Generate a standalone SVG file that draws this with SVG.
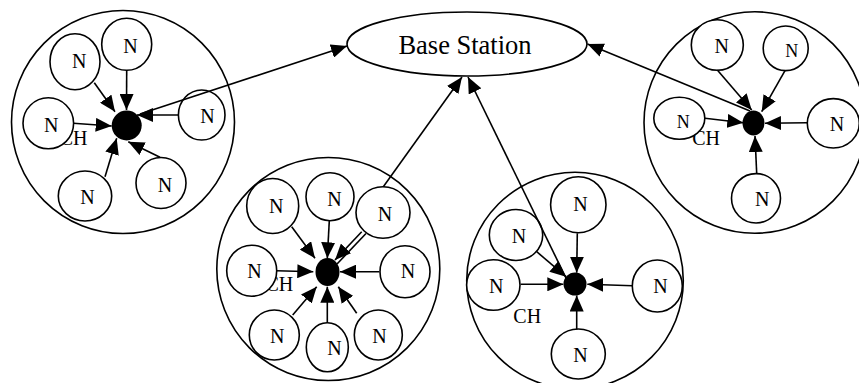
<svg xmlns="http://www.w3.org/2000/svg" width="859" height="383" viewBox="0 0 859 383">
<style>
.cl{fill:none;stroke:#000;stroke-width:1.6}
.nd{fill:#fff;stroke:#000;stroke-width:1.6}
.ch{fill:#000}
.t{font-family:"Liberation Serif","Times New Roman",serif;font-size:20px;fill:#000;text-anchor:middle}
.s{font-size:18px}
.lb{font-family:"Liberation Serif","Times New Roman",serif;font-size:20px;fill:#000}
.bs{font-family:"Liberation Serif","Times New Roman",serif;font-size:26.5px;fill:#000;text-anchor:middle}
.a{fill:none;stroke:#000;stroke-width:1.6;marker-end:url(#ah)}
.p{fill:none;stroke:#000;stroke-width:1.6}
</style>
<defs>
<marker id="ah" markerUnits="userSpaceOnUse" viewBox="0 0 16 14" markerWidth="16" markerHeight="14" refX="16" refY="7" orient="auto">
<path d="M0,0 L16,7 L0,14 z" fill="#000"/>
</marker>
</defs>

<g id="base-station">
<ellipse cx="467" cy="44" rx="120" ry="32" class="nd"/>
<text x="465" y="53.5" class="bs">Base Station</text>
</g>

<g id="cluster1">
<circle cx="123" cy="122" r="111.5" class="cl"/>
<text x="87.5" y="145" class="lb" text-anchor="end">CH</text>
<ellipse id="c1-ch" cx="126.7" cy="125.5" rx="15" ry="15" class="ch"/>
<g id="c1-n1"><ellipse cx="126.7" cy="44.3" rx="25" ry="26" class="nd"/><text x="130.5" y="53.3" class="t">N</text></g>
<g id="c1-n2"><ellipse cx="75" cy="61.7" rx="25" ry="28" class="nd"/><text x="79.3" y="68.3" class="t">N</text></g>
<g id="c1-n3"><ellipse cx="48.3" cy="123.3" rx="25.3" ry="25.5" class="nd"/><text x="51.3" y="132.3" class="t">N</text></g>
<g id="c1-n4"><ellipse cx="201.7" cy="115" rx="23.3" ry="25" class="nd"/><text x="207.5" y="122.7" class="t">N</text></g>
<g id="c1-n5"><ellipse cx="161" cy="183" rx="25" ry="25.5" class="nd"/><text x="165" y="192.3" class="t">N</text></g>
<g id="c1-n6"><ellipse cx="85" cy="196" rx="26.7" ry="25" class="nd"/><text x="87.5" y="204.3" class="t">N</text></g>
</g>

<g id="cluster2">
<circle cx="328.3" cy="269" r="111.5" class="cl"/>
<text x="293.3" y="290.7" class="lb" text-anchor="end">CH</text>
<ellipse id="c2-ch" cx="327.5" cy="272" rx="12" ry="14" class="ch"/>
<g id="c2-n1"><ellipse cx="272.7" cy="206" rx="26" ry="27.5" class="nd"/><text x="276.3" y="213.3" class="t">N</text></g>
<g id="c2-n2"><ellipse cx="330" cy="196.7" rx="24" ry="24" class="nd"/><text x="334.5" y="206" class="t">N</text></g>
<g id="c2-n3"><ellipse cx="383" cy="212.5" rx="27" ry="25.8" class="nd"/><text x="385" y="220.7" class="t">N</text></g>
<g id="c2-n4"><ellipse cx="251.7" cy="270.7" rx="25" ry="25.5" class="nd"/><text x="254.5" y="278.3" class="t">N</text></g>
<g id="c2-n5"><ellipse cx="405" cy="271.7" rx="25" ry="26" class="nd"/><text x="408" y="278.3" class="t">N</text></g>
<g id="c2-n6"><ellipse cx="274.3" cy="335" rx="25" ry="25" class="nd"/><text x="277.3" y="343.3" class="t">N</text></g>
<g id="c2-n7"><ellipse cx="327.3" cy="347.3" rx="21" ry="24.5" class="nd"/><text x="334.5" y="355" class="t">N</text></g>
<g id="c2-n8"><ellipse cx="378.3" cy="335" rx="24" ry="25" class="nd"/><text x="379.5" y="343.3" class="t">N</text></g>
</g>

<g id="cluster3">
<circle cx="575" cy="280.6" r="108.3" class="cl"/>
<text x="513.3" y="322.7" class="lb">CH</text>
<ellipse id="c3-ch" cx="575" cy="284" rx="11.5" ry="11.5" class="ch"/>
<g id="c3-n1"><ellipse cx="578.3" cy="204.7" rx="27.7" ry="28" class="nd"/><text x="580.5" y="211" class="t">N</text></g>
<g id="c3-n2"><ellipse cx="516" cy="235" rx="26.7" ry="25.5" class="nd"/><text x="519" y="242.7" class="t">N</text></g>
<g id="c3-n3"><ellipse cx="493.3" cy="285" rx="26.7" ry="25.3" class="nd"/><text x="496.2" y="292.7" class="t">N</text></g>
<g id="c3-n4"><ellipse cx="657.3" cy="286" rx="25" ry="26" class="nd"/><text x="660.5" y="292.7" class="t">N</text></g>
<g id="c3-n5"><ellipse cx="578.3" cy="354" rx="27" ry="25" class="nd"/><text x="580.5" y="361.7" class="t">N</text></g>
</g>

<g id="cluster4">
<circle cx="754.8" cy="122.5" r="110.8" class="cl"/>
<text x="720" y="145" class="lb" text-anchor="end">CH</text>
<ellipse id="c4-ch" cx="753.5" cy="123" rx="11" ry="12.5" class="ch"/>
<g id="c4-n1"><ellipse cx="717.3" cy="45" rx="26" ry="25.3" class="nd"/><text x="721.8" y="53.3" class="t">N</text></g>
<g id="c4-n2"><ellipse cx="785.7" cy="48.3" rx="22.5" ry="22.3" class="nd"/><text x="791.7" y="56.7" class="t s">N</text></g>
<g id="c4-n3"><ellipse cx="679.3" cy="118.3" rx="25.5" ry="21" class="nd"/><text x="683.3" y="128.3" class="t s">N</text></g>
<g id="c4-n4"><ellipse cx="833.3" cy="123.3" rx="26" ry="24.7" class="nd"/><text x="837" y="131" class="t">N</text></g>
<g id="c4-n5"><ellipse cx="756" cy="198.3" rx="24.5" ry="24.7" class="nd"/><text x="762.3" y="206" class="t">N</text></g>
</g>

<g id="connectors">
<!-- cluster 1 -->
<line x1="126.7" y1="70" x2="126.5" y2="110" class="a"/>
<line x1="94.3" y1="82.7" x2="115" y2="111.7" class="a"/>
<line x1="73.3" y1="123.3" x2="111.7" y2="126" class="a"/>
<line x1="178.3" y1="115" x2="137" y2="115" class="a"/>
<line x1="160" y1="157.3" x2="128.3" y2="141.7" class="a"/>
<line x1="105" y1="176.7" x2="116.7" y2="138.3" class="a"/>
<line x1="140" y1="114" x2="347" y2="46" class="a"/>
<!-- cluster 2 -->
<line x1="291.7" y1="226.7" x2="315" y2="258.3" class="a"/>
<line x1="329.3" y1="220.7" x2="327.3" y2="258.3" class="a"/>
<line x1="361.7" y1="231.7" x2="335" y2="260" class="a"/>
<line x1="276.7" y1="270.7" x2="313.3" y2="271.7" class="a"/>
<line x1="379.3" y1="271.7" x2="340" y2="271.7" class="a"/>
<line x1="292.7" y1="315" x2="316.7" y2="286.7" class="a"/>
<line x1="327.3" y1="322.7" x2="327.3" y2="286.7" class="a"/>
<line x1="356.7" y1="313.3" x2="338.3" y2="286.7" class="a"/>
<line x1="366" y1="233.5" x2="337" y2="264" class="p"/>
<line x1="383.3" y1="186.7" x2="462" y2="77" class="a"/>
<!-- cluster 3 -->
<line x1="577.3" y1="233.3" x2="576.7" y2="272.7" class="a"/>
<line x1="536.7" y1="251.7" x2="566" y2="276.7" class="a"/>
<line x1="520.7" y1="284.3" x2="563.3" y2="284.3" class="a"/>
<line x1="632.7" y1="285.7" x2="587.3" y2="284.3" class="a"/>
<line x1="576.7" y1="329.3" x2="576.7" y2="295.5" class="a"/>
<line x1="566" y1="278" x2="468" y2="77" class="a"/>
<!-- cluster 4 -->
<line x1="717.3" y1="70" x2="751.7" y2="110" class="a"/>
<line x1="785" y1="70.7" x2="761.7" y2="111.7" class="a"/>
<line x1="705" y1="118.3" x2="743.3" y2="122.7" class="a"/>
<line x1="807.3" y1="122.7" x2="765" y2="123.3" class="a"/>
<line x1="756.7" y1="173.3" x2="755" y2="136" class="a"/>
<line x1="750" y1="111" x2="587.5" y2="44" class="a"/>
</g>
</svg>
